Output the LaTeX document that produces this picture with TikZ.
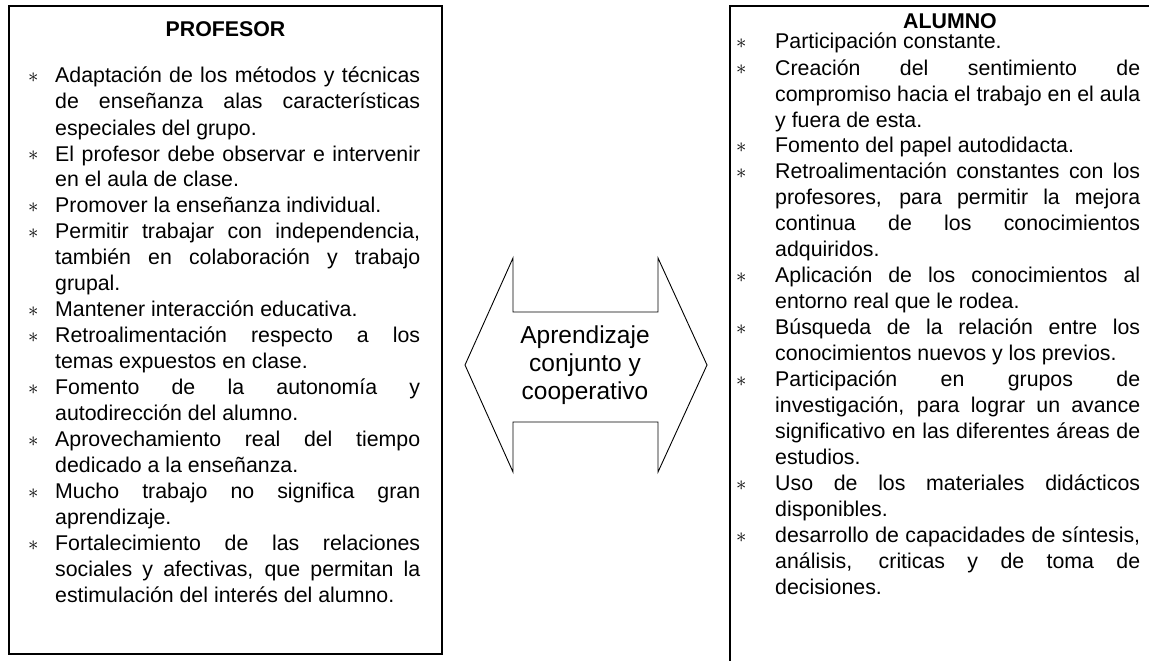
\documentclass[tikz,border=0pt]{standalone}
\usepackage{fontspec}
\setmainfont{Liberation Sans}
\newdimen\bw \bw=40pt
\newdimen\boff \boff=18pt
\newdimen\tw \tw=365pt
\newcommand\bul{\makebox[0pt]{\raisebox{0.8pt}{\fontsize{20}{20}\selectfont$\ast$}}}
\newcommand\bcol{\hbox to\bw{\hskip\boff\bul\hss}}
\newcommand\itJ[1]{\hbox{\bcol\hbox to\tw{#1}}}
\newcommand\itL[1]{\hbox{\bcol#1}}
\newcommand\lnJ[1]{\hbox{\hskip\bw\hbox to\tw{#1}}}
\newcommand\lnL[1]{\hbox{\hskip\bw #1}}
\newcommand\setbody{\fontsize{21.33}{26}\selectfont\baselineskip=26pt\lineskiplimit=-1000pt\hbadness=10000}
\tikzset{
  boxline/.style={line width=1.6pt},
  arrowline/.style={line width=0.9pt, line join=miter},
  titletext/.style={font=\fontsize{21.33}{26}\selectfont\bfseries, anchor=base, inner sep=0pt},
  bodytext/.style={anchor=base west, inner sep=0pt},
  midtext/.style={font=\fontsize{24.5}{28}\selectfont, align=center, inner sep=0pt}
}
\begin{document}
\begin{tikzpicture}[x=1pt,y=-1pt]
\useasboundingbox (0,0) rectangle (1149,661);
\clip (0,0) rectangle (1149,661);
% boxes
\draw[boxline] (9,6) rectangle (442,654);
\draw[boxline] (730,6) rectangle (1163,720);
% titles
\node[titletext] (tprof) at (225.5,37) {PROFESOR};
\node[titletext] (talum) at (950,29) {ALUMNO};
% left list (bullets centred at x=33, text from x=55)
\node[bodytext] (lprof) at (15,83) {\vtop{\setbody\boff=18pt
\itJ{Adaptación de los métodos y técnicas}
\lnJ{de enseñanza alas características}
\lnL{especiales del grupo.}
\itJ{El profesor debe observar e intervenir}
\lnL{en el aula de clase.}
\itL{Promover la enseñanza individual.}
\itJ{Permitir trabajar con independencia,}
\lnJ{también en colaboración y trabajo}
\lnL{grupal.}
\itL{Mantener interacción educativa.}
\itJ{Retroalimentación respecto a los}
\lnL{temas expuestos en clase.}
\itJ{Fomento de la autonomía y}
\lnL{autodirección del alumno.}
\itJ{Aprovechamiento real del tiempo}
\lnL{dedicado a la enseñanza.}
\itJ{Mucho trabajo no significa gran}
\lnL{aprendizaje.}
\itJ{Fortalecimiento de las relaciones}
\lnJ{sociales y afectivas, que permitan la}
\lnL{estimulación del interés del alumno.}
}};
% right list (bullets centred at x=741, text from x=775)
\node[bodytext] (lalum) at (735,49) {\vtop{\setbody\boff=6pt
\itL{Participación constante.}
\itJ{Creación del sentimiento de}
\lnJ{compromiso hacia el trabajo en el aula}
\lnL{y fuera de esta.}
\itL{Fomento del papel autodidacta.}
\itJ{Retroalimentación constantes con los}
\lnJ{profesores, para permitir la mejora}
\lnJ{continua de los conocimientos}
\lnL{adquiridos.}
\itJ{Aplicación de los conocimientos al}
\lnL{entorno real que le rodea.}
\itJ{Búsqueda de la relación entre los}
\lnL{conocimientos nuevos y los previos.}
\itJ{Participación en grupos de}
\lnJ{investigación, para lograr un avance}
\lnJ{significativo en las diferentes áreas de}
\lnL{estudios.}
\itJ{Uso de los materiales didácticos}
\lnL{disponibles.}
\itJ{desarrollo de capacidades de síntesis,}
\lnJ{análisis, criticas y de toma de}
\lnL{decisiones.}
}};
% double arrow
\draw[arrowline] (465,365) -- (513,258) -- (513,312) -- (658,312) -- (658,258)
  -- (707,365) -- (658,472) -- (658,422) -- (513,422) -- (513,472) -- cycle;
\node[midtext] (mid) at (585,365) {Aprendizaje\\conjunto y\\cooperativo};
\end{tikzpicture}
\end{document}
